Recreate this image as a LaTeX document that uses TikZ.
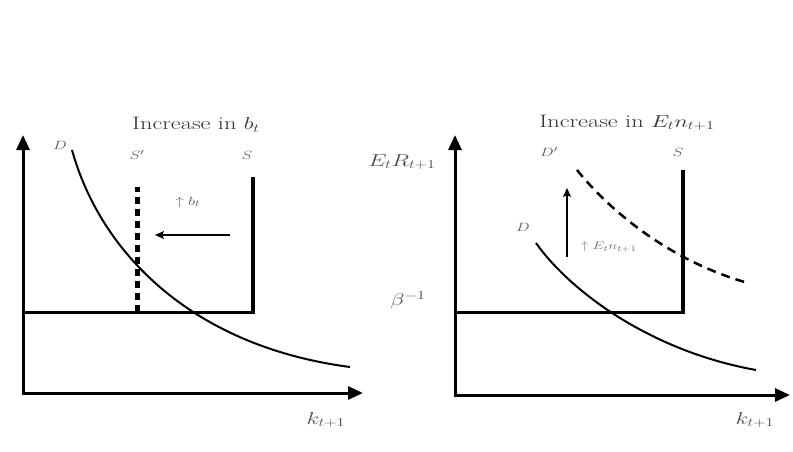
\documentclass[tikz,border=0pt]{standalone}
\usepackage{amsmath,amssymb}
\usepackage{graphicx}
\usetikzlibrary{arrows.meta}

\tikzset{
  axis/.style={line width=3pt,{Triangle[length=15pt,width=13pt]}-{Triangle[length=15pt,width=13pt]}},
  curve/.style={line width=2pt},
  supply/.style={line width=4pt},
  shiftarrow/.style={line width=1.3pt,-{Stealth[length=9pt,width=8pt,inset=2pt]}},
  ttl/.style={text=black!80,inner sep=0pt,font=\fontsize{18}{21}\selectfont},
  lbl/.style={text=black!65,inner sep=0pt,font=\fontsize{13}{15}\selectfont},
  biglbl/.style={text=black!70,inner sep=0pt,font=\fontsize{17.5}{20}\selectfont},
  tinylbl/.style={text=black!55,inner sep=0pt,font=\fontsize{11}{13}\selectfont},
}
\newcommand{\stretchx}[1]{\scalebox{1.35}[1]{#1}}

\begin{document}
\begin{tikzpicture}[x=1pt,y=1pt]
        \useasboundingbox (0,0) rectangle (793,451);
        % axes of both panels
        \foreach \ox/\oy/\xe/\n in {23/58/363/a,455/56/790/b} {
            \coordinate (top\n) at (\ox,316);
            \coordinate (end\n) at (\xe,\oy);
            \draw[axis] (top\n) |- (end\n);
          }
        % left panel: increase in b_t
        \coordinate (sLa) at (253,139);
        \coordinate (sTa) at (253,274);
        \draw[line width=3pt] (23,139) -- (sLa);
        \draw[supply] (253,137.5) -- (sTa);
        \draw[line width=5pt,dash pattern=on 7pt off 5pt] (137,139) -- (137,264);
        \draw[curve] (72,301) .. controls (100,200) and (190,105) .. (350,84);
        \coordinate (fromS) at (230,216);
        \coordinate (toSp) at (155,216);
        \draw[shiftarrow] (fromS) -- (toSp);
        \node[ttl] (titlea) at (196,326) {\stretchx{Increase in $b_t$}};
        \node[lbl] (Da) at (60,306) {\stretchx{$D$}};
        \node[lbl] (Spa) at (137,296) {\stretchx{$S'$}};
        \node[lbl] (Sa) at (247,296) {\stretchx{$S$}};
        \node[lbl] (upb) at (188,249) {\stretchx{$\uparrow b_t$}};
        \node[biglbl] (ka) at (326,31) {\stretchx{$k_{t+1}$}};
        % right panel: increase in E_t n_{t+1}
        \coordinate (sLb) at (683,139);
        \coordinate (sTb) at (683,281);
        \draw[line width=3pt] (455,139) -- (sLb);
        \draw[supply] (683,137.5) -- (sTb);
        \draw[curve] (536,208) .. controls (570,160) and (650,100) .. (756,81);
        \draw[line width=2.5pt,dash pattern=on 9pt off 6pt] (577,281) .. controls (610,240) and (670,190) .. (748,168);
        \coordinate (fromD) at (567,194);
        \coordinate (toDp) at (567,263);
        \draw[shiftarrow] (fromD) -- (toDp);
        \node[ttl] (titleb) at (627,328) {\stretchx{Increase in $E_t n_{t+1}$}};
        \node[biglbl] (ER) at (402,289) {\stretchx{$E_t R_{t+1}$}};
        \node[biglbl] (beta) at (408,151) {\stretchx{$\beta^{-1}$}};
        \node[lbl] (Db) at (523,224) {\stretchx{$D$}};
        \node[lbl] (Dpb) at (549,299) {\stretchx{$D'$}};
        \node[lbl] (Sb) at (678,299) {\stretchx{$S$}};
        \node[tinylbl] (upE) at (609,204) {\stretchx{$\uparrow E_t n_{t+1}$}};
        \node[biglbl] (kb) at (755,31) {\stretchx{$k_{t+1}$}};
      \end{tikzpicture}
\end{document}
